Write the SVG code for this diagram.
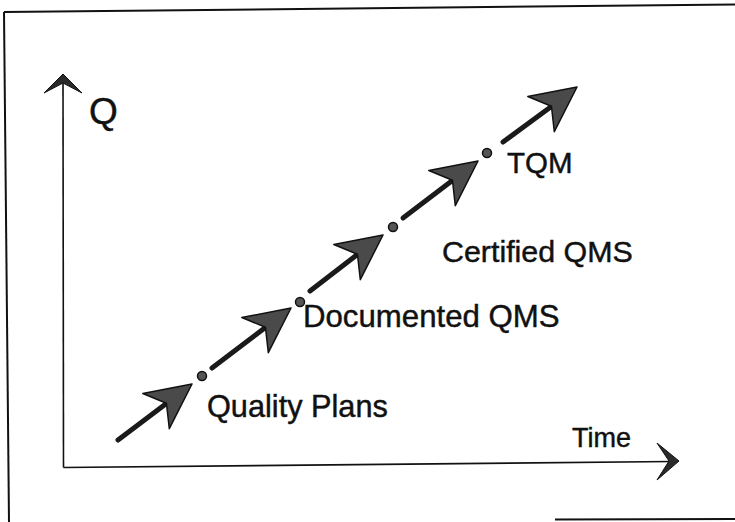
<svg xmlns="http://www.w3.org/2000/svg" xmlns:xlink="http://www.w3.org/1999/xlink" width="735" height="522" viewBox="0 0 735 522">
  <style>
    .frame { fill: none; stroke: #111; stroke-width: 2; }
    .axis { fill: none; stroke: #111; stroke-width: 1.6; }
    .axis-head { fill: #2a2a2a; stroke: #111; stroke-width: 1; stroke-linejoin: round; }
    .shaft { fill: none; stroke: #1a1a1a; stroke-width: 5; stroke-linecap: round; }
    .head { fill: #4a4a4a; stroke: #111; stroke-width: 1.5; stroke-linejoin: round; }
    .dot { fill: #555; stroke: #111; stroke-width: 1.5; }
    .label { font-family: "Liberation Sans", Arial, Helvetica, sans-serif; fill: #111; stroke: #111; stroke-width: 0.45; }
  </style>
  <defs>
    <!-- dart-shaped arrowhead, tip at origin, pointing along +x -->
    <path id="dart" class="head" d="M0,0 L-45,-22 L-32,0 L-45,22 Z"/>
  </defs>

  <rect width="735" height="522" fill="#fff"/>

  <!-- outer frame (open on the right) -->
  <g id="frame">
    <path class="frame" d="M4,12 L735,4.5"/>
    <path class="frame" d="M4,12 L9,522"/>
    <path class="frame" d="M555,519.5 L735,519"/>
  </g>

  <!-- axes -->
  <g id="axes">
    <path class="axis" d="M63.5,467.5 L63,80"/>
    <path class="axis-head" d="M63,74 L82,93 L63,83 L44,93 Z"/>
    <path class="axis" d="M63.5,467.5 L672,461.5"/>
    <path class="axis-head" d="M679,461 L657,443 L669,461 L657,480 Z"/>
  </g>

  <!-- progression arrows between stages -->
  <g id="connectors">
    <g id="arrow-1">
      <path class="shaft" d="M118,440 L167,403"/>
      <use xlink:href="#dart" href="#dart" transform="translate(192,384) rotate(-37)"/>
    </g>
    <g id="arrow-2">
      <path class="shaft" d="M212,368 L266,327"/>
      <use xlink:href="#dart" href="#dart" transform="translate(291,308) rotate(-37)"/>
    </g>
    <g id="arrow-3">
      <path class="shaft" d="M310,291 L358,254"/>
      <use xlink:href="#dart" href="#dart" transform="translate(383,235) rotate(-37)"/>
    </g>
    <g id="arrow-4">
      <path class="shaft" d="M403,218 L453,180"/>
      <use xlink:href="#dart" href="#dart" transform="translate(478,161) rotate(-37)"/>
    </g>
    <g id="arrow-5">
      <path class="shaft" d="M503,142 L552,106"/>
      <use xlink:href="#dart" href="#dart" transform="translate(577,87) rotate(-37)"/>
    </g>
  </g>

  <!-- stages -->
  <g id="quality-plans">
    <circle class="dot" cx="202" cy="376" r="4.5"/>
    <text class="label" x="207" y="417" font-size="30.7">Quality Plans</text>
  </g>
  <g id="documented-qms">
    <circle class="dot" cx="300" cy="302" r="4.5"/>
    <text class="label" x="303" y="327" font-size="31.2">Documented QMS</text>
  </g>
  <g id="certified-qms">
    <circle class="dot" cx="393" cy="227" r="4.5"/>
    <text class="label" x="442" y="262" font-size="30.4">Certified QMS</text>
  </g>
  <g id="tqm">
    <circle class="dot" cx="487" cy="153" r="4.5"/>
    <text class="label" x="507" y="173" font-size="29.5">TQM</text>
  </g>

  <!-- axis titles -->
  <g id="axis-q">
    <text class="label" x="89" y="124" font-size="37">Q</text>
  </g>
  <g id="axis-time">
    <text class="label" x="572" y="447" font-size="27">Time</text>
  </g>
</svg>
